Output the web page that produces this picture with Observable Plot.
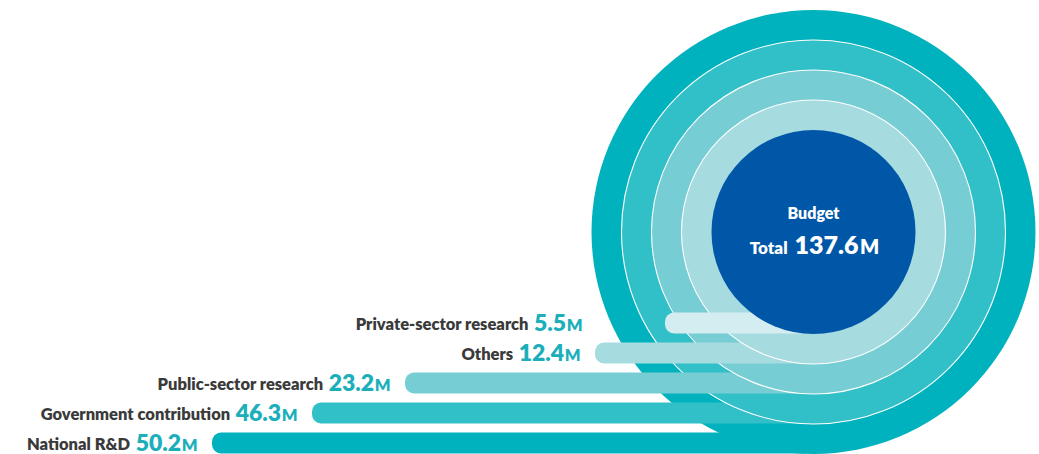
<!DOCTYPE html>
<html>
<head>
<meta charset="utf-8">
<script src="https://cdn.jsdelivr.net/npm/d3@7"></script>
<script src="https://cdn.jsdelivr.net/npm/@observablehq/plot@0.6"></script>
<style>
  html, body { margin: 0; padding: 0; background: #ffffff; overflow: hidden; }
  #chart svg { display: block; }
</style>
</head>
<body>
<div id="chart"></div>
<script>
// ---------- DATA ----------
const categories = ["National R&D", "Government contribution", "Public-sector research", "Others", "Private-sector research"];
const values = [50.2, 46.3, 23.2, 12.4, 5.5];
const unit = "M";
const centerTitle = "Budget";
const totalPrefix = "Total";
const totalValue = 137.6;

// ---------- STYLE ----------
const ringColors = ["#00b2bd", "#31bfc8", "#76cdd4", "#a6dbe0", "#d3edf0"];
const coreColor = "#0057a8";
const labelColor = "#3a3a3a";
const valueColor = "#1cafba";
const fontFamily = "Lato";
const weight = 800;

// ---------- LAYOUT ----------
const W = 1039, H = 454;
const layout = {
  cx: 813, cy: 231.5,
  outerR: 222, ringStep: 30, coreR: 102,
  barH: 21,
  tailStart: [212, 312, 405, 595, 665],
  valueMaxEnd: 582,
  valueGap: 15
};
const sz = {label: 16.5, num: 23, unit: 16.5, title: 16, total: 17, totNum: 25, totUnit: 20};

const canvas = document.createElement("canvas");
const ctx = canvas.getContext("2d");
function tw(text, size) { ctx.font = `${weight} ${size}px Lato`; return ctx.measureText(text).width; }

const rows = categories.map((name, i) => {
  const r = i < 4 ? layout.outerR - i * layout.ringStep : layout.coreR;
  const bottom = layout.cy + r;
  const mid = bottom - layout.barH / 2;
  const valueEnd = Math.min(layout.tailStart[i] - layout.valueGap, layout.valueMaxEnd);
  const num = values[i].toFixed(1);
  const mW = tw(unit, sz.unit);
  const nW = tw(num, sz.num);
  return {
    name, value: values[i], num, r, color: ringColors[i],
    x1: layout.tailStart[i], x2: layout.cx, y1: bottom - layout.barH, y2: bottom,
    mEnd: valueEnd, numEnd: valueEnd - mW - 0.5, labelEnd: valueEnd - mW - nW - 6,
    labelY: mid + 6, valueY: mid + 7
  };
});

const center = [{x: layout.cx, y: layout.cy, r: layout.coreR}];

function disc(row, withStroke) {
  return Plot.dot([row], {
    x: () => layout.cx, y: () => layout.cy, r: "r",
    fill: row.color, stroke: withStroke ? "#ffffff" : "none", strokeWidth: 1.1
  });
}
function bar(row) {
  return Plot.rect([row], {x1: "x1", x2: "x2", y1: "y1", y2: "y2", fill: row.color, rx: 9});
}

const marks = [];
marks.push(disc(rows[0], false));
marks.push(bar(rows[0]));
marks.push(bar(rows[1]));
marks.push(disc(rows[1], true));
marks.push(bar(rows[2]));
marks.push(disc(rows[2], true));
marks.push(bar(rows[3]));
marks.push(disc(rows[3], true));
marks.push(bar(rows[4]));
marks.push(Plot.dot(center, {x: "x", y: "y", r: "r", fill: coreColor}));

// labels
marks.push(Plot.text(rows, {x: "labelEnd", y: "labelY", text: "name", textAnchor: "end", lineAnchor: "bottom",
  fill: labelColor, fontSize: sz.label, fontWeight: weight, fontFamily}));
marks.push(Plot.text(rows, {x: "numEnd", y: "valueY", text: "num", textAnchor: "end", lineAnchor: "bottom",
  fill: valueColor, fontSize: sz.num, fontWeight: weight, fontFamily}));
marks.push(Plot.text(rows, {x: "mEnd", y: "valueY", text: () => unit, textAnchor: "end", lineAnchor: "bottom",
  fill: valueColor, fontSize: sz.unit, fontWeight: weight, fontFamily}));

// center text
const totNum = totalValue.toFixed(1);
const wT = tw(totalPrefix, sz.total), wN = tw(totNum, sz.totNum), wM = tw(unit, sz.totUnit);
const gap1 = 7, gap2 = 1.5;
const lineW = wT + gap1 + wN + gap2 + wM;
const startX = layout.cx - lineW / 2 + 1;
const centerText = [
  {x: startX, y: 253, t: totalPrefix, s: sz.total},
  {x: startX + wT + gap1, y: 253, t: totNum, s: sz.totNum},
  {x: startX + wT + gap1 + wN + gap2, y: 253, t: unit, s: sz.totUnit}
];
marks.push(Plot.text([{x: layout.cx, y: 218, t: centerTitle}], {x: "x", y: "y", text: "t", textAnchor: "middle", lineAnchor: "bottom",
  fill: "#ffffff", fontSize: sz.title, fontWeight: weight, fontFamily}));
for (const c of centerText) {
  marks.push(Plot.text([c], {x: "x", y: "y", text: "t", textAnchor: "start", lineAnchor: "bottom",
    fill: "#ffffff", fontSize: c.s, fontWeight: weight, fontFamily}));
}

const chart = Plot.plot({
  width: W, height: H,
  margin: 0,
  x: {domain: [0, W], range: [0, W], axis: null},
  y: {domain: [0, H], range: [0, H], axis: null},
  r: {type: "identity"},
  style: {background: "#ffffff", overflow: "hidden"},
  marks
});
document.getElementById("chart").appendChild(chart);
</script>
</body>
</html>
